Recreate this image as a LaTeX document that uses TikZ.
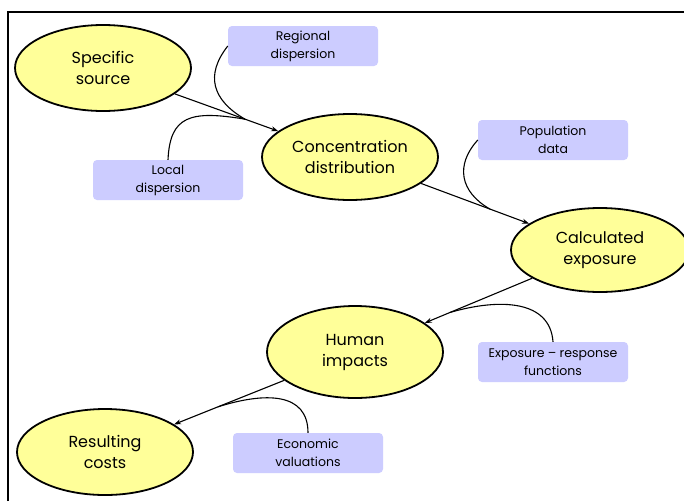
\documentclass[tikz,border=0pt]{standalone}
\usepackage{fontspec}
\setmainfont{Poppins}
\usetikzlibrary{shapes.geometric,arrows.meta,calc}
\definecolor{ellfill}{HTML}{FFFF99}
\definecolor{boxfill}{HTML}{CCCCFF}
\begin{document}
\begin{tikzpicture}[x=1pt,y=-1pt,
 ell/.style={ellipse,draw=black,line width=1.8pt,fill=ellfill,minimum width=176pt,minimum height=86pt,inner sep=0pt,align=center,font=\fontsize{16}{21}\selectfont,execute at begin node={\rule{0pt}{18pt}}},
 infobox/.style={rectangle,rounded corners=4pt,fill=boxfill,minimum width=150pt,minimum height=40pt,inner sep=0pt,align=center,font=\fontsize{12.5}{18}\selectfont,execute at begin node={\rule{0pt}{14.5pt}}},
 flow/.style={line width=1.1pt,-{Stealth[length=7pt,width=5pt]}},
 feed/.style={line width=1.1pt}]
\useasboundingbox (0,0) rectangle (684,501);
\fill[white] (0,0) rectangle (684,501);
\draw[line width=2.2pt] (8,501) -- (8,12) -- (684,12);

\node[ell] (S) at (103,68) {Specific\\source};
\node[ell] (C) at (350,157) {Concentration\\distribution};
\node[ell,minimum width=178pt,minimum height=84pt] (E) at (600,250) {Calculated\\exposure};
\node[ell,minimum height=92pt] (H) at (355,352) {Human\\impacts};
\node[ell] (R) at (105,452) {Resulting\\costs};

\node[infobox] (RD) at (303,46) {Regional\\dispersion};
\node[infobox] (LD) at (168,180) {Local\\dispersion};
\node[infobox] (PD) at (553,140) {Population\\data};
\node[infobox] (ER) at (553,362) {Exposure – response\\functions};
\node[infobox] (EV) at (308,453) {Economic\\valuations};

\draw[flow] (S) -- (C);
\draw[flow] (C) -- (E);
\draw[flow] (E) -- (H);
\draw[flow] (H) -- (R);

\coordinate (j1) at ($(S.center)!0.575!(C.center)$);
\coordinate (j2) at ($(C.center)!0.56!(E.center)$);
\coordinate (j3) at ($(E.center)!0.612!(H.center)$);
\coordinate (j4) at ($(H.center)!0.548!(R.center)$);

\draw[feed] (RD.west) .. controls (205,75) and (212,100) .. (j1);
\draw[feed] (LD.north) .. controls (170,116) and (190,110) .. (j1);
\draw[feed] (PD.west) .. controls (455,165) and (460,192) .. (j2);
\draw[feed] (ER.north) .. controls (550,300) and (500,298) .. (j3);
\draw[feed] (EV.north) .. controls (308,392) and (265,392) .. (j4);
\end{tikzpicture}
\end{document}
